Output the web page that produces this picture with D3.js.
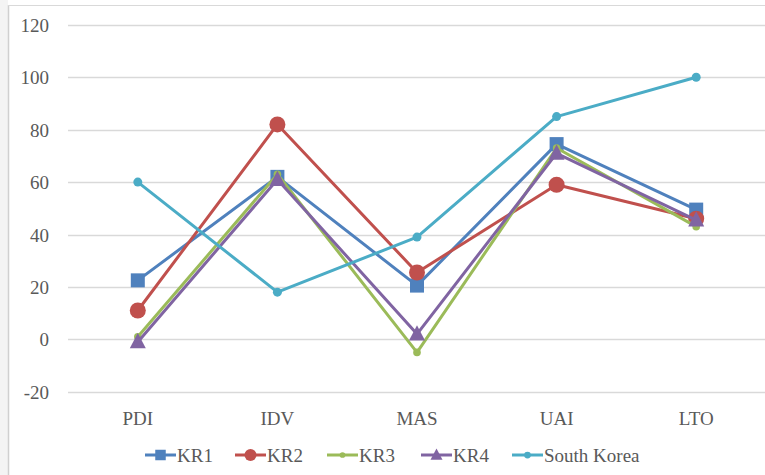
<!DOCTYPE html>
<html>
<head>
<meta charset="utf-8">
<script src="https://cdn.jsdelivr.net/npm/d3@7"></script>
<style>
  html, body { margin: 0; padding: 0; background: #fff; }
  svg { display: block; }
  svg text { font-family: "Liberation Serif", "Tinos", "DejaVu Serif", serif !important; fill: #595959; }
</style>
</head>
<body>
<svg id="chart" width="765" height="475"></svg>
<script>
// Hofstede dimensions
const categories = ["PDI", "IDV", "MAS", "UAI", "LTO"];
const yTicks = [-20, 0, 20, 40, 60, 80, 100, 120];

const kr1 = [22.5, 62, 20.5, 74.5, 49.5];
const kr2 = [11, 82, 25.5, 59, 46];
const kr3 = [1, 63, -5, 73, 43];
const kr4 = [-1, 61, 2, 71, 45.5];
const southKorea = [60, 18, 39, 85, 100];

const seriesNames = ["KR1", "KR2", "KR3", "KR4", "South Korea"];
const seriesValues = [kr1, kr2, kr3, kr4, southKorea];
const seriesColors = ["#4F81BD", "#C0504D", "#9BBB59", "#8064A2", "#4BACC6"];
const seriesMarkers = ["square", "bigCircle", "smallCircle", "triangle", "circle"];

const FONT = "'Liberation Serif', 'Tinos', 'DejaVu Serif', serif";
const svg = d3.select("#chart");

// chart frame
svg.append("rect").attr("x", 0).attr("y", 0).attr("width", 8).attr("height", 475).attr("fill", "#f4f4f4");
svg.append("line").attr("x1", 8.5).attr("x2", 8.5).attr("y1", 5).attr("y2", 475)
  .attr("stroke", "#d0d0d0").attr("stroke-width", 1.5);
svg.append("line").attr("x1", 8).attr("x2", 765).attr("y1", 5.5).attr("y2", 5.5)
  .attr("stroke", "#d9d9d9").attr("stroke-width", 1);

const x = d3.scaleBand().domain(categories).range([68, 766]).padding(0);
const y = d3.scaleLinear().domain([-20, 120]).range([391.7, 24.9]);
const cx = c => x(c) + x.bandwidth() / 2;

// horizontal gridlines
svg.append("g").selectAll("line").data(yTicks).join("line")
  .attr("x1", 68).attr("x2", 765)
  .attr("y1", d => Math.round(y(d)) + 0.5).attr("y2", d => Math.round(y(d)) + 0.5)
  .attr("stroke", "#d9d9d9").attr("stroke-width", 1.3);

// y axis labels (plain hyphen for negatives)
const yAxis = d3.axisLeft(y).tickValues(yTicks).tickFormat(d => String(d)).tickSize(0).tickPadding(0);
const gy = svg.append("g").attr("transform", "translate(49,0)").call(yAxis)
  .attr("font-family", FONT).attr("font-size", 19);
gy.select(".domain").remove();
gy.selectAll("text").attr("dy", "0.35em").attr("fill", "#595959");

// category labels
const xAxis = d3.axisBottom(x).tickSize(0).tickPadding(0);
const gx = svg.append("g").attr("transform", "translate(0,418)").call(xAxis)
  .attr("font-family", FONT).attr("font-size", 19);
gx.select(".domain").remove();
gx.selectAll("text").attr("dy", "0.35em").attr("fill", "#595959");

function drawMarker(g, type, color, px, py, scale) {
  const s = scale || 1;
  if (type === "square") {
    const h = 7 * s;
    g.append("rect").attr("x", px - h).attr("y", py - h).attr("width", 2 * h).attr("height", 2 * h).attr("fill", color);
  } else if (type === "bigCircle") {
    g.append("circle").attr("cx", px).attr("cy", py).attr("r", 8 * s).attr("fill", color);
  } else if (type === "smallCircle") {
    g.append("circle").attr("cx", px).attr("cy", py).attr("r", 3.8 * s).attr("fill", color);
  } else if (type === "circle") {
    g.append("circle").attr("cx", px).attr("cy", py).attr("r", 4.5 * s).attr("fill", color);
  } else if (type === "triangle") {
    const h = 8 * s;
    g.append("path").attr("d", `M${px},${py - h * 1.1}L${px + h},${py + h * 0.8}L${px - h},${py + h * 0.8}Z`).attr("fill", color);
  }
}

const line = d3.line().x(d => cx(d.c)).y(d => y(d.v));

seriesValues.forEach((vals, i) => {
  const pts = categories.map((c, j) => ({ c, v: vals[j] }));
  const g = svg.append("g");
  g.append("path").datum(pts).attr("d", line)
    .attr("fill", "none").attr("stroke", seriesColors[i]).attr("stroke-width", 3)
    .attr("stroke-linejoin", "round");
  pts.forEach(p => drawMarker(g, seriesMarkers[i], seriesColors[i], cx(p.c), y(p.v)));
});

// legend
const legendX = [145, 235, 327, 421, 512];
const legendY = 455;
seriesNames.forEach((name, i) => {
  const g = svg.append("g");
  g.append("line").attr("x1", legendX[i]).attr("x2", legendX[i] + 31)
    .attr("y1", legendY).attr("y2", legendY)
    .attr("stroke", seriesColors[i]).attr("stroke-width", 3);
  drawMarker(g, seriesMarkers[i], seriesColors[i], legendX[i] + 15.5, legendY, 0.75);
  g.append("text").attr("x", legendX[i] + 32).attr("y", legendY).attr("dy", "0.35em")
    .attr("font-family", FONT).attr("font-size", 19).text(name);
});
</script>
</body>
</html>
